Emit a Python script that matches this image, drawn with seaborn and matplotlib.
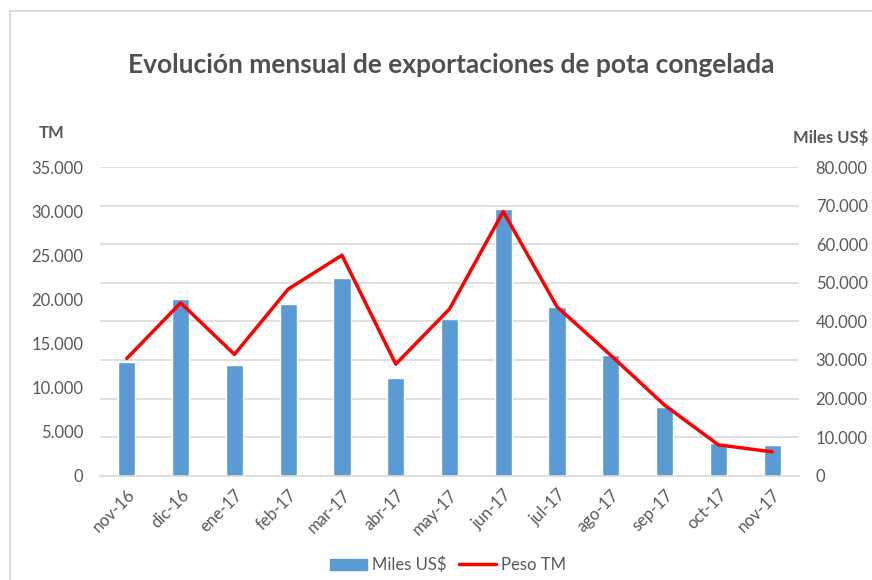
import numpy as np
import pandas as pd
import matplotlib.pyplot as plt
import seaborn as sns
from matplotlib.lines import Line2D
from matplotlib.patches import Patch
from matplotlib.ticker import FuncFormatter, MultipleLocator

# datos
meses = ["nov-16", "dic-16", "ene-17", "feb-17", "mar-17", "abr-17", "may-17",
         "jun-17", "jul-17", "ago-17", "sep-17", "oct-17", "nov-17"]
miles_usd = [29500, 45900, 28700, 44400, 51300, 25400, 40500,
             69000, 43800, 31400, 17900, 8500, 7950]
peso_tm = [13300, 19600, 13750, 21150, 25000, 12650, 18900,
           29950, 19150, 13650, 8000, 3500, 2700]

sns.set_style("white")
plt.rcParams['font.family'] = ['Lato', 'DejaVu Sans']

gris = "#595959"
df = pd.DataFrame({"mes": meses, "usd": miles_usd, "tm": peso_tm})

fig = plt.figure(figsize=(8.72, 5.80), dpi=100)
ax = fig.add_axes([100 / 872, 1 - 475.7 / 580, 699 / 872, 308.7 / 580])
ax2 = ax.twinx()

# barras en el eje derecho (Miles US$)
sns.barplot(data=df, x="mes", y="usd", ax=ax2, color="#5B9BD5",
            saturation=1, width=0.32, order=meses)
ax2.set_ylim(0, 80000)
ax2.yaxis.set_major_locator(MultipleLocator(10000))
ax2.grid(axis="y", color="#D9D9D9", linewidth=1.2)
ax2.set_axisbelow(True)

# linea en el eje izquierdo (TM)
sns.lineplot(data=df, x="mes", y="tm", ax=ax, color="#FF0000", linewidth=2.5,
             sort=False)
ax.set_ylim(0, 35000)
ax.yaxis.set_major_locator(MultipleLocator(5000))
ax.set_zorder(ax2.get_zorder() + 1)
ax.patch.set_visible(False)
ax.grid(False)

fmt = FuncFormatter(lambda v, p: f"{int(v):,}".replace(",", "."))
for a in (ax, ax2):
    a.yaxis.set_major_formatter(fmt)
    a.set_xlim(-0.5, len(meses) - 0.5)
    a.set_xlabel("")
    a.set_ylabel("")
    for s in a.spines.values():
        s.set_visible(False)
    a.tick_params(axis="y", length=0, labelsize=12, labelcolor=gris, pad=12)

ax2.spines["bottom"].set_visible(True)
ax2.spines["bottom"].set_color("#D9D9D9")
ax2.spines["bottom"].set_linewidth(1.2)

ax.set_xticks(range(len(meses)))
ax.set_xticklabels(meses, rotation=45, ha="right", rotation_mode="anchor",
                   fontsize=12, color=gris)
ax.tick_params(axis="x", length=0, pad=8)
ax2.set_xticks(np.arange(-0.5, len(meses)), minor=True)
ax2.tick_params(axis="x", which="minor", length=5, color="#D9D9D9", width=1.2)
ax2.tick_params(axis="x", which="major", length=0)

fig.text(451 / 872, 1 - 65 / 580, "Evolución mensual de exportaciones de pota congelada",
         ha="center", va="center", fontsize=19, fontweight="bold", color="#505050")
fig.text(52 / 872, 1 - 133 / 580, "TM", ha="center", va="center",
         fontsize=12, fontweight="bold", color=gris)
fig.text(831 / 872, 1 - 137 / 580, "Miles US$", ha="center", va="center",
         fontsize=12, fontweight="bold", color=gris)

handles = [Patch(color="#5B9BD5"), Line2D([], [], color="#FF0000", linewidth=2.5)]
fig.legend(handles, ["Miles US$", "Peso TM"], loc="center",
           bbox_to_anchor=(448 / 872, 1 - 565 / 580), ncol=2, frameon=False,
           fontsize=12, labelcolor=gris, handlelength=2.2, columnspacing=0.8,
           handletextpad=0.3)

# borde del grafico
fig.add_artist(Line2D([10 / 872, 10 / 872], [0, 1 - 11 / 580], color="#D9D9D9",
                      linewidth=1.5, transform=fig.transFigure))
fig.add_artist(Line2D([10 / 872, 1], [1 - 11 / 580, 1 - 11 / 580], color="#D9D9D9",
                      linewidth=1.5, transform=fig.transFigure))

fig.savefig("out.png", dpi=100)
